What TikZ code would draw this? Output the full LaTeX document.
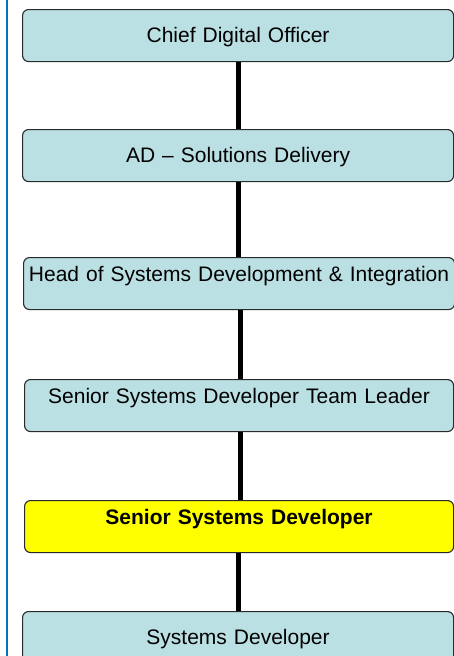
\documentclass[tikz,border=0pt]{standalone}
\usepackage{fontspec}
\setmainfont{Liberation Sans}
\definecolor{boxfill}{HTML}{BBE0E3}
\definecolor{boxline}{HTML}{2A2A2A}
\definecolor{sideblue}{HTML}{0070C0}
\definecolor{hiyellow}{HTML}{FFFF00}
\tikzset{
  orgbox/.style={draw=boxline, line width=1.1pt, fill=boxfill, rounded corners=6pt,
    anchor=north west, inner xsep=0pt, inner ysep=0pt, align=center,
    font=\fontsize{21}{25}\selectfont},
  centred/.style={text height=32.6pt, text depth=19.4pt},
  toptext/.style={text height=24pt, text depth=28pt},
  link/.style={line width=5.5pt, black}
}
\begin{document}
\begin{tikzpicture}[x=1pt,y=-1pt]
\useasboundingbox (0,0) rectangle (454,656);
\draw[sideblue, line width=2pt] (7.2,0) -- (7.2,656);
\node[orgbox, centred, text width=431pt] (cdo) at (22,9) {Chief Digital Officer};
\node[orgbox, centred, text width=431pt] (ad) at (22,129) {AD -- Solutions Delivery};
\node[orgbox, toptext, text width=431pt] (head) at (23,257) {Head of Systems Development \& Integration};
\node[orgbox, toptext, text width=429pt] (ssdtl) at (24,379) {Senior Systems Developer Team Leader};
\node[orgbox, toptext, text width=429pt, fill=hiyellow, font=\fontsize{21}{25}\selectfont\bfseries] (ssd) at (24,500) {Senior Systems Developer};
\node[orgbox, centred, text width=431pt] (sd) at (22,611) {Systems Developer};
\draw[link] ([xshift=0.5pt]cdo.south) -- ([xshift=0.5pt]cdo.south |- ad.north);
\draw[link] ([xshift=0.5pt]ad.south) -- ([xshift=0.5pt]ad.south |- head.north);
\draw[link] ([xshift=1.5pt]head.south) -- ([xshift=1.5pt]head.south |- ssdtl.north);
\draw[link] ([xshift=1.5pt]ssdtl.south) -- ([xshift=1.5pt]ssdtl.south |- ssd.north);
\draw[link] ([xshift=-0.5pt]ssd.south) -- ([xshift=-0.5pt]ssd.south |- sd.north);
\end{tikzpicture}
\end{document}
